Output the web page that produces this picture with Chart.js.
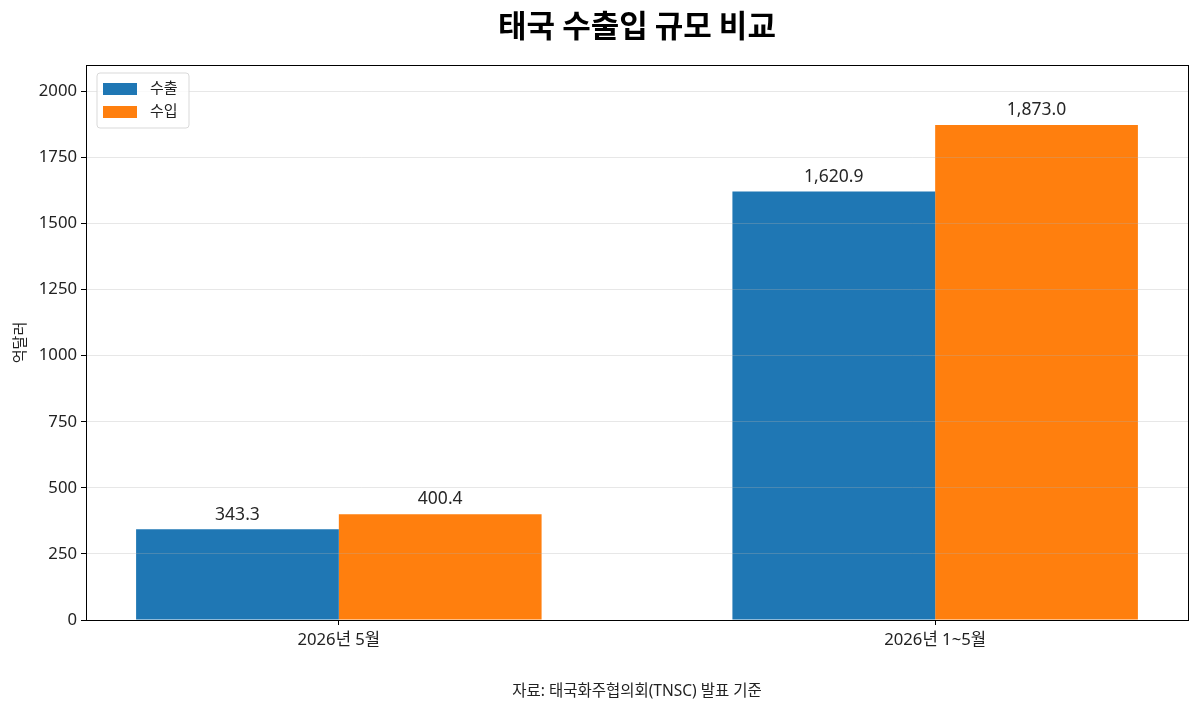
<!DOCTYPE html>
<html><head><meta charset="utf-8">
<script src="https://cdn.jsdelivr.net/npm/chart.js@4.4.1/dist/chart.umd.min.js"></script>
<style>html,body{margin:0;padding:0;background:#fff}#wrap{width:1200px;height:714px}</style>
</head><body><div id="wrap"><canvas id="c" width="1200" height="714"></canvas></div>
<script>
const categories = ['2026년 5월', '2026년 1~5월'];
const exportValues = [343.3, 1620.9];
const importValues = [400.4, 1873.0];
const seriesNames = ['수출', '수입'];
const titleText = '태국 수출입 규모 비교';
const yAxisTitle = '억달러';
const sourceText = '자료: 태국화주협의회(TNSC) 발표 기준';
const FONT = "'Noto Sans', 'Noto Sans CJK KR', sans-serif";
const TFONT = "'Noto Sans CJK KR', 'Noto Sans', sans-serif";

const fmt = v => v.toLocaleString('en-US', {minimumFractionDigits:1, maximumFractionDigits:1});

const extras = {
  id: 'extras',
  afterDatasetsDraw(chart) {
    const ctx = chart.ctx;
    ctx.save();
    ctx.font = '17.5px ' + FONT;
    ctx.fillStyle = '#262626';
    ctx.textAlign = 'center';
    ctx.textBaseline = 'bottom';
    chart.data.datasets.forEach((ds, i) => {
      chart.getDatasetMeta(i).data.forEach((el, j) => {
        ctx.fillText(fmt(ds.data[j].y), el.x, el.y - 6);
      });
    });
    ctx.restore();
  },
  afterDraw(chart) {
    const ctx = chart.ctx, a = chart.chartArea;
    const cx = (a.left + a.right) / 2;
    ctx.save();
    ctx.strokeStyle = '#000';
    ctx.lineWidth = 1;
    ctx.strokeRect(Math.round(a.left) + 0.5, Math.round(a.top) + 0.5, Math.round(a.right - a.left), Math.round(a.bottom - a.top));
    ctx.fillStyle = '#000';
    ctx.font = 'bold 31px ' + TFONT;
    ctx.textAlign = 'center';
    ctx.textBaseline = 'middle';
    ctx.fillText(titleText, cx, 25);
    ctx.font = '15.5px ' + FONT;
    ctx.fillStyle = '#222';
    ctx.fillText(sourceText, cx, 692);
    // legend
    const lx = a.left + 11, ly = a.top + 8, lw = 92, lh = 55;
    ctx.beginPath();
    const r = 3;
    ctx.moveTo(lx + r, ly);
    ctx.arcTo(lx + lw, ly, lx + lw, ly + lh, r);
    ctx.arcTo(lx + lw, ly + lh, lx, ly + lh, r);
    ctx.arcTo(lx, ly + lh, lx, ly, r);
    ctx.arcTo(lx, ly, lx + lw, ly, r);
    ctx.closePath();
    ctx.fillStyle = 'rgba(255,255,255,0.8)';
    ctx.fill();
    ctx.strokeStyle = '#d9d9d9';
    ctx.stroke();
    ctx.font = '15px ' + FONT;
    ctx.textAlign = 'left';
    chart.data.datasets.forEach((ds, i) => {
      const y = ly + 16 + i * 23;
      ctx.fillStyle = ds.backgroundColor;
      ctx.fillRect(lx + 6, y - 6, 34, 12);
      ctx.fillStyle = '#222';
      ctx.fillText(ds.label, lx + 53, y);
    });
    ctx.restore();
  }
};

new Chart(document.getElementById('c'), {
  type: 'bar',
  data: {
    datasets: [
      { label: seriesNames[0], data: exportValues.map((v, i) => ({x: i, y: v})), backgroundColor: '#1f77b4' },
      { label: seriesNames[1], data: importValues.map((v, i) => ({x: i, y: v})), backgroundColor: '#ff7f0e' }
    ]
  },
  options: {
    responsive: false,
    animation: false,
    devicePixelRatio: 1,
    categoryPercentage: 0.68,
    barPercentage: 1.0,
    layout: { padding: { top: 65, right: 12, left: 0, bottom: 0 } },
    plugins: { legend: { display: false }, title: { display: false }, tooltip: { enabled: false } },
    scales: {
      x: {
        type: 'linear',
        offset: false,
        min: -0.424, max: 1.424,
        afterBuildTicks: s => { s.ticks = categories.map((c, i) => ({value: i})); },
        afterFit: s => { s.height = 94; },
        ticks: { callback: (v) => categories[v] ?? '', color: '#222', font: { size: 16.7, family: FONT }, padding: 5, autoSkip: false, maxRotation: 0 },
        grid: { offset: false, drawOnChartArea: false, drawTicks: true, tickLength: 5, tickColor: '#000' },
        border: { display: false }
      },
      y: {
        min: 0, max: 2100,
        afterFit: s => { s.width = 86; },
        ticks: { stepSize: 250, includeBounds: false, callback: v => String(v), color: '#222', font: { size: 16.7, family: FONT }, padding: 4 },
        grid: { color: 'rgba(176,176,176,0.3)', z: 1, tickLength: 5, tickColor: '#000', drawTicks: true },
        border: { display: false },
        title: { display: true, text: yAxisTitle, color: '#222', font: { size: 15, family: FONT }, padding: { top: 12, bottom: 0 } }
      }
    }
  },
  plugins: [extras]
});
</script></body></html>
